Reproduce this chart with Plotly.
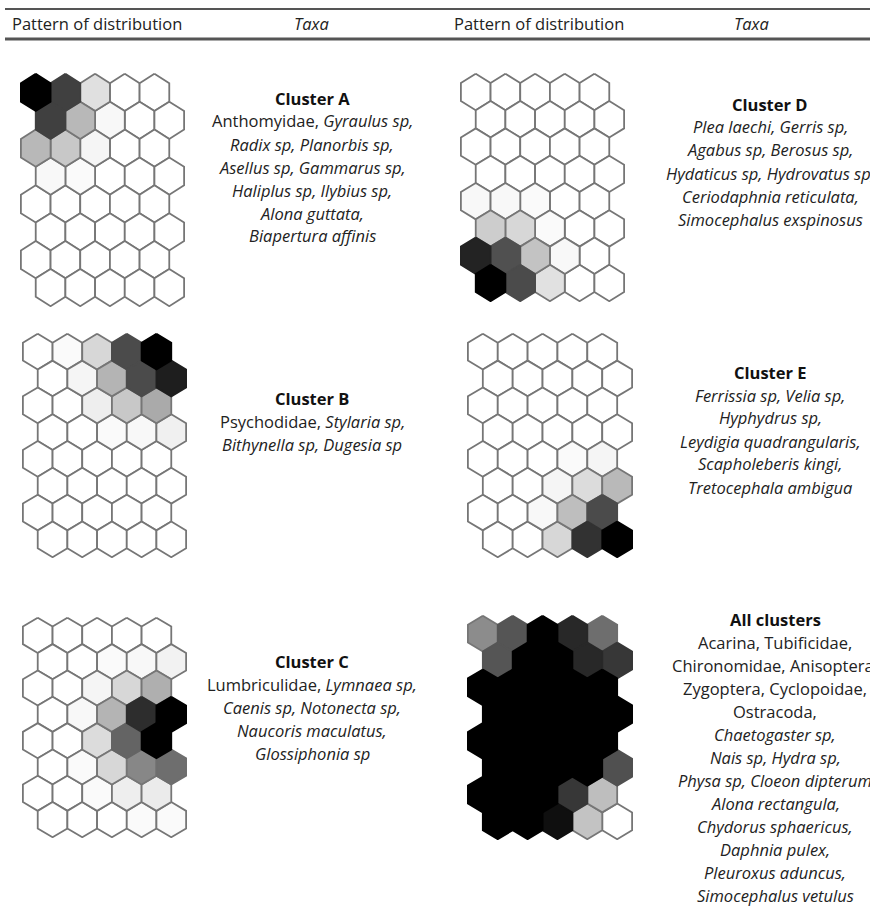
import plotly.graph_objects as go

# grey level of each SOM cell (0 = black, 255 = white), 8 rows x 5 cols, top row first
cluster_a = [
    [0, 64, 224, 255, 255],
    [64, 184, 248, 255, 255],
    [184, 200, 245, 255, 255],
    [248, 250, 255, 255, 255],
    [255, 255, 255, 255, 255],
    [255, 255, 255, 255, 255],
    [255, 255, 255, 255, 255],
    [255, 255, 255, 255, 255],
]
cluster_b = [
    [255, 250, 215, 75, 0],
    [255, 245, 180, 75, 30],
    [255, 255, 238, 200, 170],
    [255, 255, 250, 248, 240],
    [255, 255, 255, 255, 255],
    [255, 255, 255, 255, 255],
    [255, 255, 255, 255, 255],
    [255, 255, 255, 255, 255],
]
cluster_c = [
    [255, 255, 255, 255, 255],
    [255, 255, 250, 248, 242],
    [255, 255, 245, 215, 175],
    [255, 248, 180, 45, 0],
    [255, 255, 220, 100, 0],
    [255, 250, 215, 135, 110],
    [255, 255, 250, 238, 235],
    [255, 255, 255, 250, 250],
]
cluster_d = [
    [255, 255, 255, 255, 255],
    [255, 255, 255, 255, 255],
    [255, 255, 255, 255, 255],
    [255, 255, 255, 255, 255],
    [248, 248, 250, 255, 255],
    [205, 215, 250, 255, 255],
    [35, 80, 195, 248, 255],
    [0, 75, 225, 255, 255],
]
cluster_e = [
    [255, 255, 255, 255, 255],
    [255, 255, 255, 255, 255],
    [255, 255, 255, 255, 255],
    [255, 255, 255, 255, 255],
    [255, 255, 255, 250, 245],
    [255, 255, 245, 220, 185],
    [255, 255, 248, 190, 75],
    [255, 255, 215, 50, 0],
]
cluster_all = [
    [140, 85, 0, 40, 110],
    [85, 0, 0, 40, 55],
    [0, 0, 0, 0, 0],
    [0, 0, 0, 0, 0],
    [0, 0, 0, 0, 0],
    [0, 0, 0, 0, 80],
    [0, 0, 0, 55, 190],
    [0, 0, 15, 195, 255],
]

title_a = "Cluster A"
taxa_a = ["Anthomyidae, <i>Gyraulus sp,</i>", "<i>Radix sp, Planorbis sp,</i>",
          "<i>Asellus sp, Gammarus sp,</i>", "<i>Haliplus sp, Ilybius sp,</i>",
          "<i>Alona guttata,</i>", "<i>Biapertura affinis</i>"]
title_b = "Cluster B"
taxa_b = ["Psychodidae, <i>Stylaria sp,</i>", "<i>Bithynella sp, Dugesia sp</i>"]
title_c = "Cluster C"
taxa_c = ["Lumbriculidae, <i>Lymnaea sp,</i>", "<i>Caenis sp, Notonecta sp,</i>",
          "<i>Naucoris maculatus,</i>", "<i>Glossiphonia sp</i>"]
title_d = "Cluster D"
taxa_d = ["<i>Plea laechi, Gerris sp,</i>", "<i>Agabus sp, Berosus sp,</i>",
          "<i>Hydaticus sp, Hydrovatus sp,</i>", "<i>Ceriodaphnia reticulata,</i>",
          "<i>Simocephalus exspinosus</i>"]
title_e = "Cluster E"
taxa_e = ["<i>Ferrissia sp, Velia sp,</i>", "<i>Hyphydrus sp,</i>",
          "<i>Leydigia quadrangularis,</i>", "<i>Scapholeberis kingi,</i>",
          "<i>Tretocephala ambigua</i>"]
title_all = "All clusters"
taxa_all = ["Acarina, Tubificidae,", "Chironomidae, Anisoptera,", "Zygoptera, Cyclopoidae,",
            "Ostracoda,", "<i>Chaetogaster sp,</i>", "<i>Nais sp, Hydra sp,</i>",
            "<i>Physa sp, Cloeon dipterum</i>", "<i>Alona rectangula,</i>",
            "<i>Chydorus sphaericus,</i>", "<i>Daphnia pulex,</i>",
            "<i>Pleuroxus aduncus,</i>", "<i>Simocephalus vetulus</i>"]

headers = ["Pattern of distribution", "<i>Taxa</i>", "Pattern of distribution", "<i>Taxa</i>"]

W, H = 870, 910
FONT = "Open Sans"
TXT = "#222222"
FS = 16.5

# (grid, box in px: x0, x1, y0, y1, text block: centre x, title y, taxa lines)
panels = [
    (cluster_a, (20, 185, 73, 307), (312, 98, title_a, taxa_a)),
    (cluster_b, (22, 187, 333, 558), (312, 398, title_b, taxa_b)),
    (cluster_c, (22, 187, 617, 838), (312, 661, title_c, taxa_c)),
    (cluster_d, (460, 625, 73, 302), (770, 104, title_d, taxa_d)),
    (cluster_e, (467, 633, 333, 558), (770, 372, title_e, taxa_e)),
    (cluster_all, (467, 633, 615, 840), (775, 619, title_all, taxa_all)),
]

fig = go.Figure()
annotations = []
LINE_GAP = 23

for i, (grid, box, txt) in enumerate(panels):
    ax = "" if i == 0 else str(i + 1)
    cells = []
    for r, row in enumerate(grid):
        for c, g in enumerate(row):
            cells.append((g, r, c))
    # draw light cells first so darker outlines sit on top
    cells.sort(key=lambda t: -t[0])
    for g, r, c in cells:
        cx = c + 0.5 * (r % 2)
        cy = -r
        xs = [cx, cx + 0.5, cx + 0.5, cx, cx - 0.5, cx - 0.5, cx]
        ys = [cy + 2 / 3, cy + 1 / 3, cy - 1 / 3, cy - 2 / 3, cy - 1 / 3, cy + 1 / 3, cy + 2 / 3]
        lc = min(g, 118)
        fig.add_trace(go.Scatter(
            x=xs, y=ys, mode="lines", fill="toself",
            fillcolor=f"rgb({g},{g},{g})",
            line=dict(color=f"rgb({lc},{lc},{lc})", width=1.8),
            hoverinfo="skip", showlegend=False,
            xaxis="x" + ax, yaxis="y" + ax,
        ))
    x0, x1, y0, y1 = box
    fig.update_layout({
        "xaxis" + ax: dict(domain=[x0 / W, x1 / W], range=[-0.53, 5.03], visible=False,
                           fixedrange=True),
        "yaxis" + ax: dict(domain=[1 - y1 / H, 1 - y0 / H], range=[-7 - 2 / 3 - 0.03, 2 / 3 + 0.03],
                           visible=False, fixedrange=True),
    })
    tx, ty, title, lines = txt
    annotations.append(dict(x=tx / W, y=1 - ty / H, xref="paper", yref="paper",
                            text="<b>" + title + "</b>", showarrow=False,
                            font=dict(family=FONT, size=FS, color="#111111"),
                            xanchor="center", yanchor="middle"))
    for k, line in enumerate(lines):
        annotations.append(dict(x=tx / W, y=1 - (ty + LINE_GAP * (k + 1)) / H,
                                xref="paper", yref="paper", text=line, showarrow=False,
                                font=dict(family=FONT, size=FS, color=TXT),
                                xanchor="center", yanchor="middle"))

# column headers
for text, hx, anchor in zip(headers, [10, 311, 452, 751], ["left", "center", "left", "center"]):
    annotations.append(dict(x=hx / W, y=1 - 23 / H, xref="paper", yref="paper",
                            text=text, showarrow=False, xanchor=anchor, yanchor="middle",
                            font=dict(family=FONT, size=FS, color=TXT)))

shapes = [
    dict(type="line", xref="paper", yref="paper", x0=5 / W, x1=1, y0=1 - 9 / H, y1=1 - 9 / H,
         line=dict(color="#555555", width=2)),
    dict(type="line", xref="paper", yref="paper", x0=5 / W, x1=1, y0=1 - 39 / H, y1=1 - 39 / H,
         line=dict(color="#555555", width=3)),
]

fig.update_layout(
    width=W, height=H,
    margin=dict(l=0, r=0, t=0, b=0),
    paper_bgcolor="white", plot_bgcolor="white",
    annotations=annotations, shapes=shapes,
    showlegend=False,
)

fig.write_html("out.html", config={"displayModeBar": False},
               post_script="document.body.style.margin='0';")
